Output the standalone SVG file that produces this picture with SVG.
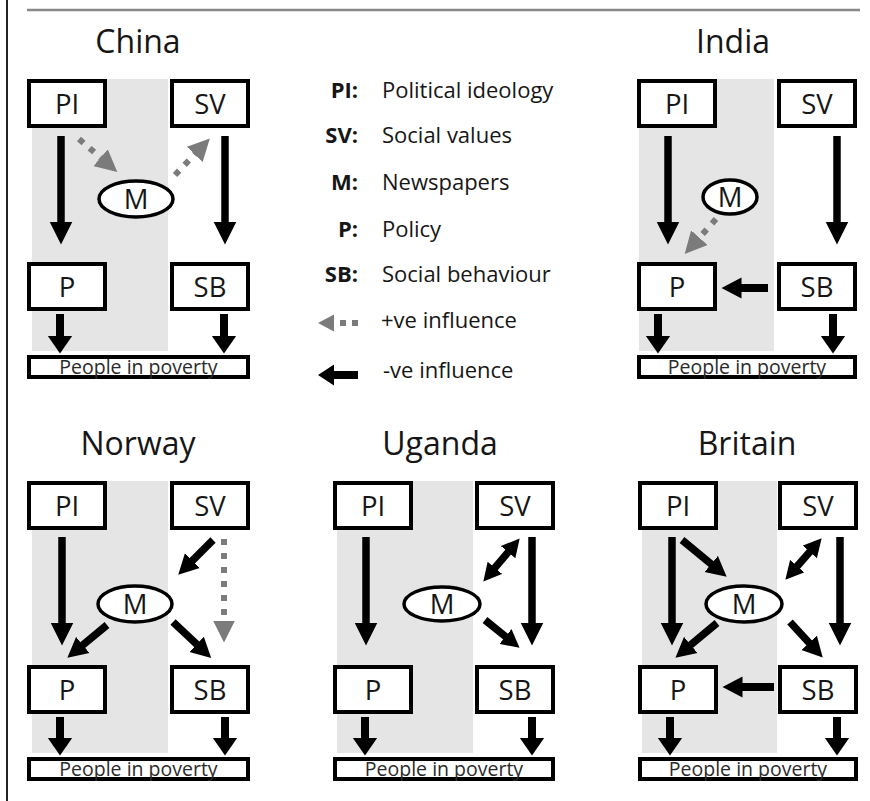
<svg xmlns="http://www.w3.org/2000/svg" width="870" height="801" viewBox="0 0 870 801">
<defs>
<style>
text{font-family:"Open Sans","Liberation Sans",sans-serif;fill:#161616}
.t{font-size:32px;text-anchor:middle}
.b{font-size:27.5px;text-anchor:middle}
.pp{font-size:19.5px;text-anchor:middle;fill:#2a2a2a}
.lk{font-size:22px;font-weight:700;text-anchor:end}
.ld{font-size:22px}
.box{fill:#fff;stroke:#000;stroke-width:4}
.ell{fill:#fff;stroke:#000;stroke-width:3.5}
.shade{fill:#e5e5e5}
.a{stroke:#000;stroke-width:7.5;fill:none}
.as{stroke:#000;stroke-width:8;fill:none}
.g{stroke:#7b7b7b;stroke-width:6;stroke-dasharray:6 8;fill:none}
</style>
<marker id="ah" markerUnits="userSpaceOnUse" viewBox="0 -12 24 24" markerWidth="24" markerHeight="24" refX="0.5" refY="0" orient="auto"><path d="M0,-11.5 L23,0 L0,11.5 z" fill="#000"/></marker>
<marker id="ad" markerUnits="userSpaceOnUse" viewBox="0 -11 21 22" markerWidth="21" markerHeight="22" refX="0.5" refY="0" orient="auto"><path d="M0,-10.5 L20,0 L0,10.5 z" fill="#000"/></marker>
<marker id="au" markerUnits="userSpaceOnUse" viewBox="0 -10 19 20" markerWidth="19" markerHeight="20" refX="0.5" refY="0" orient="auto-start-reverse"><path d="M0,-9.5 L18,0 L0,9.5 z" fill="#000"/></marker>
<marker id="as" markerUnits="userSpaceOnUse" viewBox="0 -13 19 26" markerWidth="19" markerHeight="26" refX="0.5" refY="0" orient="auto"><path d="M0,-12.5 L18,0 L0,12.5 z" fill="#000"/></marker>
<marker id="ag" markerUnits="userSpaceOnUse" viewBox="0 -11 23 22" markerWidth="23" markerHeight="22" refX="0.5" refY="0" orient="auto"><path d="M0,-11 L22,0 L0,11 z" fill="#7b7b7b"/></marker>
</defs>
<rect width="870" height="801" fill="#fff"/>
<!-- frame -->
<line x1="7" y1="0" x2="7" y2="801" stroke="#222" stroke-width="2"/>
<line x1="27" y1="10" x2="860" y2="10" stroke="#888" stroke-width="2.5"/>

<!-- shading and titles -->
<g id="backgrounds">
<rect class="shade" x="32" y="79" width="136" height="272"/>
<rect class="shade" x="639" y="79" width="135" height="272"/>
<rect class="shade" x="32" y="481" width="136" height="272"/>
<rect class="shade" x="337" y="481" width="136" height="272"/>
<rect class="shade" x="642" y="481" width="135" height="272"/>
</g>
<g id="titles">
<text class="t" x="138" y="53">China</text>
<text class="t" x="733" y="53">India</text>
<text class="t" x="138" y="455">Norway</text>
<text class="t" x="440" y="455">Uganda</text>
<text class="t" x="747" y="455">Britain</text>
</g>

<!-- China nodes -->
<g id="china-PI"><rect class="box" x="29" y="81" width="76" height="45"/><text class="b" x="67" y="114">PI</text></g>
<g id="china-SV"><rect class="box" x="172" y="81" width="76" height="45"/><text class="b" x="210" y="114">SV</text></g>
<g id="china-M"><ellipse class="ell" cx="136" cy="199" rx="37" ry="18"/><text class="b" x="136" y="209">M</text></g>
<g id="china-P"><rect class="box" x="29" y="264" width="76" height="45"/><text class="b" x="67" y="297">P</text></g>
<g id="china-SB"><rect class="box" x="172" y="264" width="76" height="45"/><text class="b" x="210" y="297">SB</text></g>
<g id="china-people"><rect class="box" x="29" y="357" width="219" height="20"/><text class="pp" x="138.5" y="374">People in poverty</text></g>

<!-- India nodes -->
<g id="india-PI"><rect class="box" x="639" y="81" width="76" height="45"/><text class="b" x="677" y="114">PI</text></g>
<g id="india-SV"><rect class="box" x="779" y="81" width="76" height="45"/><text class="b" x="817" y="114">SV</text></g>
<g id="india-M"><ellipse class="ell" cx="730" cy="197" rx="27" ry="17"/><text class="b" x="730" y="207">M</text></g>
<g id="india-P"><rect class="box" x="639" y="264" width="76" height="45"/><text class="b" x="677" y="297">P</text></g>
<g id="india-SB"><rect class="box" x="779" y="264" width="76" height="45"/><text class="b" x="817" y="297">SB</text></g>
<g id="india-people"><rect class="box" x="639" y="357" width="216" height="20"/><text class="pp" x="747" y="374">People in poverty</text></g>

<!-- Norway nodes -->
<g id="norway-PI"><rect class="box" x="29" y="483" width="76" height="45"/><text class="b" x="67" y="516">PI</text></g>
<g id="norway-SV"><rect class="box" x="172" y="483" width="76" height="45"/><text class="b" x="210" y="516">SV</text></g>
<g id="norway-M"><ellipse class="ell" cx="135" cy="604" rx="37" ry="18"/><text class="b" x="135" y="614">M</text></g>
<g id="norway-P"><rect class="box" x="29" y="667" width="76" height="45"/><text class="b" x="67" y="700">P</text></g>
<g id="norway-SB"><rect class="box" x="172" y="667" width="76" height="45"/><text class="b" x="210" y="700">SB</text></g>
<g id="norway-people"><rect class="box" x="29" y="759" width="219" height="20"/><text class="pp" x="138.5" y="776">People in poverty</text></g>

<!-- Uganda nodes -->
<g id="uganda-PI"><rect class="box" x="335" y="483" width="76" height="45"/><text class="b" x="373" y="516">PI</text></g>
<g id="uganda-SV"><rect class="box" x="477" y="483" width="76" height="45"/><text class="b" x="515" y="516">SV</text></g>
<g id="uganda-M"><ellipse class="ell" cx="442" cy="604" rx="38" ry="17"/><text class="b" x="442" y="614">M</text></g>
<g id="uganda-P"><rect class="box" x="335" y="667" width="76" height="45"/><text class="b" x="373" y="700">P</text></g>
<g id="uganda-SB"><rect class="box" x="477" y="667" width="76" height="45"/><text class="b" x="515" y="700">SB</text></g>
<g id="uganda-people"><rect class="box" x="335" y="759" width="218" height="20"/><text class="pp" x="444" y="776">People in poverty</text></g>

<!-- Britain nodes -->
<g id="britain-PI"><rect class="box" x="640" y="483" width="76" height="45"/><text class="b" x="678" y="516">PI</text></g>
<g id="britain-SV"><rect class="box" x="780" y="483" width="76" height="45"/><text class="b" x="818" y="516">SV</text></g>
<g id="britain-M"><ellipse class="ell" cx="744" cy="604" rx="38" ry="18"/><text class="b" x="744" y="614">M</text></g>
<g id="britain-P"><rect class="box" x="640" y="667" width="76" height="45"/><text class="b" x="678" y="700">P</text></g>
<g id="britain-SB"><rect class="box" x="780" y="667" width="76" height="45"/><text class="b" x="818" y="700">SB</text></g>
<g id="britain-people"><rect class="box" x="640" y="759" width="216" height="20"/><text class="pp" x="748" y="776">People in poverty</text></g>

<!-- Legend -->
<g id="legend">
<text class="lk" x="358" y="98">PI:</text><text class="ld" x="382" y="98">Political ideology</text>
<text class="lk" x="358" y="143">SV:</text><text class="ld" x="382" y="143">Social values</text>
<text class="lk" x="358" y="190">M:</text><text class="ld" x="382" y="190">Newspapers</text>
<text class="lk" x="358" y="237">P:</text><text class="ld" x="382" y="237">Policy</text>
<text class="lk" x="358" y="282">SB:</text><text class="ld" x="382" y="282">Social behaviour</text>
<line x1="358" y1="323" x2="338" y2="323" stroke="#7b7b7b" stroke-width="6" stroke-dasharray="6 6"/>
<polygon points="318,323 334,314.5 334,331.5" fill="#7b7b7b"/>
<text class="ld" x="381" y="328">+ve influence</text>
<line x1="358" y1="375" x2="332" y2="375" stroke="#000" stroke-width="8"/>
<polygon points="318,375 334,364.5 334,385.5" fill="#000"/>
<text class="ld" x="383" y="378">-ve influence</text>
</g>

<!-- Connectors -->
<g id="connectors">
<!-- China -->
<line class="a" x1="61" y1="136" x2="61" y2="222" marker-end="url(#ah)"/>
<line class="a" x1="225" y1="136" x2="225" y2="222" marker-end="url(#ah)"/>
<line class="g" x1="79" y1="139" x2="101" y2="158" marker-end="url(#ag)"/>
<line class="g" x1="175" y1="175" x2="195" y2="154" marker-end="url(#ag)"/>
<line class="as" x1="60" y1="314" x2="60" y2="336" marker-end="url(#as)"/>
<line class="as" x1="224" y1="314" x2="224" y2="336" marker-end="url(#as)"/>
<!-- India -->
<line class="a" x1="668" y1="136" x2="668" y2="222" marker-end="url(#ah)"/>
<line class="a" x1="837" y1="136" x2="837" y2="222" marker-end="url(#ah)"/>
<line class="g" x1="716" y1="219" x2="699" y2="238" marker-end="url(#ag)"/>
<line class="as" x1="768" y1="288" x2="741" y2="288" marker-end="url(#ad)"/>
<line class="as" x1="658" y1="314" x2="658" y2="336" marker-end="url(#as)"/>
<line class="as" x1="833" y1="314" x2="833" y2="336" marker-end="url(#as)"/>
<!-- Norway -->
<line class="a" x1="62" y1="537" x2="62" y2="623" marker-end="url(#ah)"/>
<line class="a" x1="213" y1="540" x2="192" y2="561" marker-end="url(#ad)"/>
<line class="g" x1="224" y1="539" x2="224" y2="621" marker-end="url(#ag)"/>
<line class="a" x1="107" y1="625" x2="82.4" y2="645.3" marker-end="url(#ad)"/>
<line class="a" x1="173" y1="622" x2="197" y2="644.6" marker-end="url(#ad)"/>
<line class="as" x1="60" y1="717" x2="60" y2="738" marker-end="url(#as)"/>
<line class="as" x1="225" y1="717" x2="225" y2="738" marker-end="url(#as)"/>
<!-- Uganda -->
<line class="a" x1="366" y1="537" x2="366" y2="623" marker-end="url(#ah)"/>
<line class="a" x1="532" y1="537" x2="532" y2="623" marker-end="url(#ah)"/>
<line class="a" x1="494.6" y1="568.2" x2="508.4" y2="551.8" marker-start="url(#au)" marker-end="url(#au)"/>
<line class="a" x1="485" y1="620" x2="505.9" y2="636.8" marker-end="url(#au)"/>
<line class="as" x1="365" y1="717" x2="365" y2="738" marker-end="url(#as)"/>
<line class="as" x1="532" y1="717" x2="532" y2="738" marker-end="url(#as)"/>
<!-- Britain -->
<line class="a" x1="672" y1="537" x2="672" y2="623" marker-end="url(#ah)"/>
<line class="a" x1="840" y1="537" x2="840" y2="623" marker-end="url(#ah)"/>
<line class="a" x1="682" y1="540" x2="711.6" y2="564.3" marker-end="url(#ad)"/>
<line class="a" x1="796.9" y1="566.5" x2="810.1" y2="551.5" marker-start="url(#au)" marker-end="url(#au)"/>
<line class="a" x1="717" y1="623" x2="690.4" y2="645.2" marker-end="url(#ad)"/>
<line class="a" x1="790" y1="622" x2="809.5" y2="643.2" marker-end="url(#ad)"/>
<line class="as" x1="774" y1="687" x2="742" y2="687" marker-end="url(#ad)"/>
<line class="as" x1="670" y1="717" x2="670" y2="738" marker-end="url(#as)"/>
<line class="as" x1="837" y1="717" x2="837" y2="738" marker-end="url(#as)"/>
</g>
</svg>
